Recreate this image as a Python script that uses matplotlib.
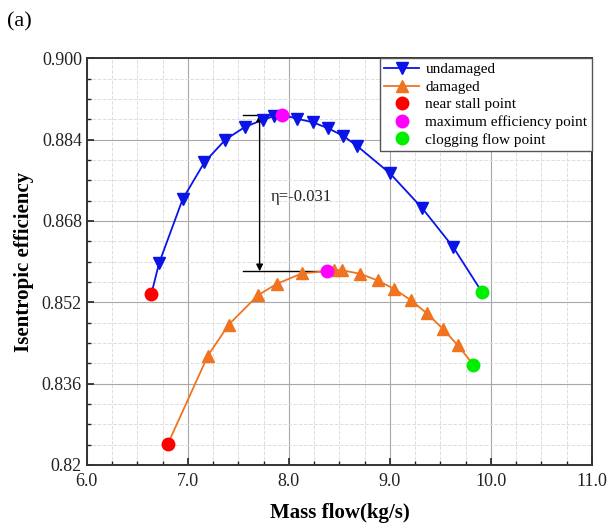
import matplotlib
matplotlib.use("Agg")
import matplotlib.pyplot as plt
from matplotlib.ticker import MultipleLocator, FixedLocator, FormatStrFormatter
from matplotlib.lines import Line2D

# undamaged rotor
und_x = [6.715, 6.949, 7.163, 7.372, 7.567, 7.746, 7.85, 8.080, 8.236, 8.391, 8.539, 8.671, 8.998, 9.320, 9.628]
und_y = [0.8597, 0.8723, 0.8795, 0.8840, 0.8865, 0.8879, 0.8886, 0.8881, 0.8874, 0.8862, 0.8847, 0.8828, 0.8774, 0.8705, 0.8628]
und_stall = (6.638, 0.8536)
und_max = (7.932, 0.8889)
und_clog = (9.911, 0.8540)

# damaged rotor
dam_x = [7.198, 7.404, 7.695, 7.878, 8.131, 8.442, 8.527, 8.706, 8.877, 9.044, 9.208, 9.367, 9.523, 9.674]
dam_y = [0.8415, 0.8476, 0.8534, 0.8556, 0.8577, 0.8584, 0.8583, 0.8576, 0.8563, 0.8546, 0.8524, 0.8498, 0.8468, 0.8435]
dam_stall = (6.801, 0.8241)
dam_max = (8.376, 0.8581)
dam_clog = (9.826, 0.8397)

plt.rcParams['font.family'] = ['Liberation Serif', 'DejaVu Serif']

fig = plt.figure(figsize=(6.16, 5.29), dpi=100)
ax = fig.add_axes([0.141, 0.121, 0.820, 0.769])

blue = '#0a14e6'
orange = '#f07420'

def curve(pts_x, pts_y, stall, mx, clog):
    xs = [stall[0]] + pts_x + [clog[0]] + [mx[0]]
    ys = [stall[1]] + pts_y + [clog[1]] + [mx[1]]
    pts = sorted(zip(xs, ys))
    return [p[0] for p in pts], [p[1] for p in pts]

lx, ly = curve(und_x, und_y, und_stall, und_max, und_clog)
ax.plot(lx, ly, color=blue, lw=1.3, zorder=3)
ax.plot(und_x, und_y, ls='none', marker='v', ms=8, color=blue, zorder=4)
lx, ly = curve(dam_x, dam_y, dam_stall, dam_max, dam_clog)
ax.plot(lx, ly, color=orange, lw=1.3, zorder=3)
ax.plot(dam_x, dam_y, ls='none', marker='^', ms=8, color=orange, zorder=4)

for p in (und_stall, dam_stall):
    ax.plot(*p, 'o', ms=10, color='#ff0000', mec='none', zorder=5)
for p in (und_max, dam_max):
    ax.plot(*p, 'o', ms=10, color='#ff00ff', mec='none', zorder=5)
for p in (und_clog, dam_clog):
    ax.plot(*p, 'o', ms=10, color='#00ee00', mec='none', zorder=5)

# efficiency drop annotation
ax.plot([7.55, 7.95], [und_max[1], und_max[1]], color='black', lw=1.0, zorder=2)
ax.plot([7.55, 8.35], [dam_max[1], dam_max[1]], color='black', lw=1.0, zorder=2)
ax.annotate('', xy=(7.71, und_max[1]), xytext=(7.71, dam_max[1]),
            arrowprops=dict(arrowstyle='<|-|>', color='black', lw=1.0,
                            shrinkA=0, shrinkB=0, mutation_scale=10))
ax.text(7.82, 0.8728, 'η=-0.031', fontsize=12, va='center', ha='left', color='#222222')

# legend
handles = [
    Line2D([], [], color=blue, marker='v', ms=8, lw=1.3),
    Line2D([], [], color=orange, marker='^', ms=8, lw=1.3),
    Line2D([], [], color='#ff0000', marker='o', ms=10, ls='none', mec='none'),
    Line2D([], [], color='#ff00ff', marker='o', ms=10, ls='none', mec='none'),
    Line2D([], [], color='#00ee00', marker='o', ms=10, ls='none', mec='none'),
]
labels = ['undamaged', 'damaged', 'near stall point', 'maximum efficiency point', 'clogging flow point']
leg = ax.legend(handles, labels, loc='upper right', bbox_to_anchor=(1.0, 1.0),
                fontsize=11, frameon=True, fancybox=False, borderaxespad=0,
                handlelength=2.3, handletextpad=0.4, labelspacing=0.25,
                borderpad=0.3)
leg.get_frame().set_edgecolor('#555555')
leg.get_frame().set_linewidth(1.0)
leg.get_frame().set_alpha(1)

ax.set_xlim(6.0, 11.0)
ax.set_ylim(0.82, 0.900)
ax.xaxis.set_major_locator(FixedLocator([6.0, 7.0, 8.0, 9.0, 10.0, 11.0]))
ax.xaxis.set_major_formatter(FormatStrFormatter('%.1f'))
ax.xaxis.set_minor_locator(MultipleLocator(0.25))
ax.yaxis.set_major_locator(FixedLocator([0.82, 0.836, 0.852, 0.868, 0.884, 0.900]))
ax.yaxis.set_minor_locator(MultipleLocator(0.004))
ax.set_yticklabels(['0.82', '0.836', '0.852', '0.868', '0.884', '0.900'])

ax.grid(which='major', color='#a8a8a8', lw=0.8)
ax.grid(which='minor', color='#dddddd', lw=0.7, ls='--')
ax.set_axisbelow(True)
ax.tick_params(which='both', direction='in', labelsize=13, colors='#222222')
ax.tick_params(which='major', length=5, width=1.2)
ax.tick_params(which='minor', length=3, width=1.0)
ax.tick_params(axis='x', pad=6)
for s in ax.spines.values():
    s.set_linewidth(1.4)
    s.set_color('#333333')

ax.set_xlabel('Mass flow(kg/s)', fontsize=15, fontweight='bold', labelpad=9)
ax.set_ylabel('Isentropic efficiency', fontsize=15, fontweight='bold', labelpad=6)

fig.text(0.012, 0.950, '(a)', fontsize=16)

fig.savefig('out.png', dpi=100)
